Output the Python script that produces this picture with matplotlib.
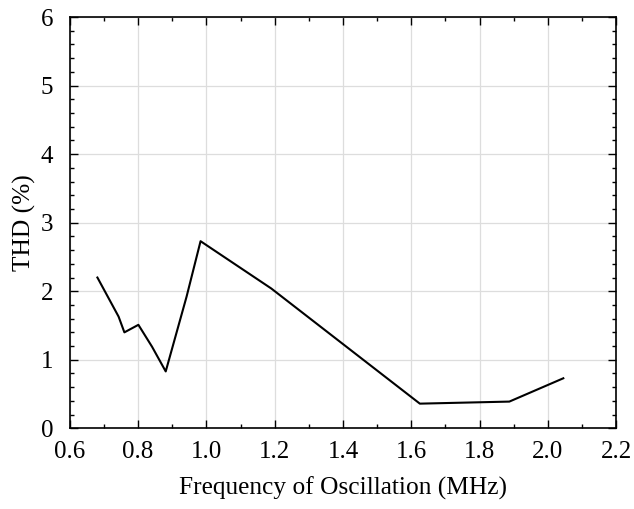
import matplotlib
matplotlib.use("Agg")
import matplotlib.pyplot as plt
from matplotlib.ticker import MultipleLocator

plt.rcParams['font.family'] = ['Liberation Serif', 'DejaVu Serif']

freq = [0.681, 0.743, 0.760, 0.801, 0.841, 0.881, 0.942, 0.983, 1.190, 1.625, 1.887, 2.045]
thd = [2.20, 1.63, 1.40, 1.51, 1.19, 0.83, 1.92, 2.73, 2.04, 0.36, 0.39, 0.73]

fig = plt.figure(figsize=(6.34, 5.09), dpi=100)
ax = fig.add_axes([0.110, 0.1585, 0.862, 0.808])
ax.plot(freq, thd, color='black', linewidth=1.5)
ax.set_xlim(0.6, 2.2)
ax.set_ylim(0, 6)
ax.xaxis.set_major_locator(MultipleLocator(0.2))
ax.xaxis.set_minor_locator(MultipleLocator(0.1))
ax.yaxis.set_major_locator(MultipleLocator(1))
ax.yaxis.set_minor_locator(MultipleLocator(0.2))
ax.set_xticklabels([f"{v:.1f}" for v in ax.get_xticks()])
ax.grid(True, which='major', color='#dddddd', linewidth=0.9)
ax.tick_params(which='both', direction='in', top=True, right=True, labelsize=18, width=1)
ax.tick_params(which='major', length=6)
ax.tick_params(which='minor', length=3)
ax.tick_params(axis='x', which='major', pad=9)
ax.tick_params(axis='y', which='major', pad=12)
for s in ax.spines.values():
    s.set_linewidth(1.2)
ax.set_xlabel('Frequency of Oscillation (MHz)', fontsize=18.3, labelpad=10)
ax.set_ylabel('THD (%)', fontsize=18.3, labelpad=3)
fig.savefig('out.png', dpi=100)
